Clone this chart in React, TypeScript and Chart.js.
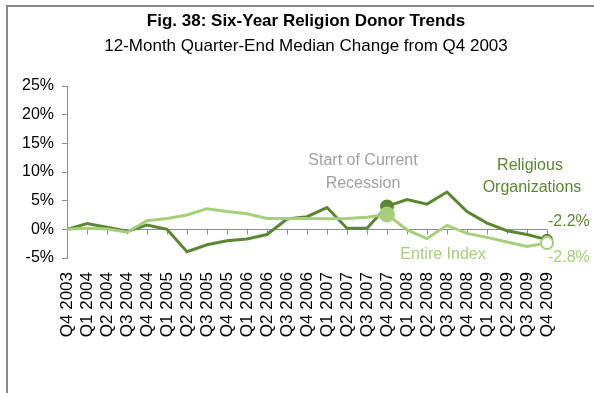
import React, { useEffect, useRef } from "react";
import { Chart, registerables } from "chart.js";

Chart.register(...registerables);

const categories = [
  "Q4 2003", "Q1 2004", "Q2 2004", "Q3 2004", "Q4 2004",
  "Q1 2005", "Q2 2005", "Q3 2005", "Q4 2005",
  "Q1 2006", "Q2 2006", "Q3 2006", "Q4 2006",
  "Q1 2007", "Q2 2007", "Q3 2007", "Q4 2007",
  "Q1 2008", "Q2 2008", "Q3 2008", "Q4 2008",
  "Q1 2009", "Q2 2009", "Q3 2009", "Q4 2009",
];

const religiousOrgs = [
  0, 1.0, 0.35, -0.35, 0.75,
  0, -3.9, -2.7, -2.0,
  -1.7, -0.9, 1.8, 2.2,
  3.8, 0.2, 0.2, 4.0,
  5.2, 4.4, 6.5, 3.1,
  1.1, -0.25, -0.9, -1.8,
];

const entireIndex = [
  0, 0.2, 0.05, -0.5, 1.5,
  1.9, 2.5, 3.6, 3.1,
  2.7, 1.9, 1.9, 1.9,
  1.85, 1.9, 2.1, 2.6,
  -0.1, -1.6, 0.7, -0.7,
  -1.4, -2.2, -3.0, -2.4,
];

const yTicks = [-5, 0, 5, 10, 15, 20, 25];

const recessionIndex = 16;

const titleText = "Fig. 38: Six-Year Religion Donor Trends";
const subtitleText = "12-Month Quarter-End Median Change from Q4 2003";
const recessionLabel = ["Start of Current", "Recession"];
const religiousLabel = ["Religious", "Organizations"];
const entireLabel = "Entire Index";
const religiousEndLabel = "-2.2%";
const entireEndLabel = "-2.8%";

const DARK = "#5B8632";
const LIGHT = "#A6CE7B";
const AXIS = "#8C8C8C";
const FONT = "'Liberation Sans', Arial, sans-serif";

export default function App() {
  const canvasRef = useRef<HTMLCanvasElement | null>(null);

  useEffect(() => {
    if (!canvasRef.current) return;
    const last = categories.length - 1;

    const radii = (big: number, small: number) =>
      categories.map((_, i) => (i === recessionIndex ? big : i === last ? small : 0));

    const zeroLinePlugin = {
      id: "zeroLine",
      beforeDatasetsDraw(chart: any) {
        const { ctx, chartArea, scales } = chart;
        const y0 = Math.round(scales.y.getPixelForValue(0)) + 0.5;
        ctx.save();
        ctx.strokeStyle = AXIS;
        ctx.lineWidth = 1;
        ctx.beginPath();
        ctx.moveTo(chartArea.left - 5, y0);
        ctx.lineTo(chartArea.right, y0);
        for (let i = 1; i < categories.length; i++) {
          const x = Math.round(scales.x.getPixelForValue(i)) + 0.5;
          ctx.moveTo(x, y0);
          ctx.lineTo(x, y0 + 5);
        }
        ctx.stroke();
        ctx.restore();
      },
    };

    const textPlugin = {
      id: "texts",
      afterDraw(chart: any) {
        const { ctx } = chart;
        ctx.save();
        ctx.textBaseline = "middle";
        ctx.textAlign = "center";
        ctx.fillStyle = "#000";
        ctx.font = `bold 17px ${FONT}`;
        ctx.fillText(titleText, 306, 21);
        ctx.font = `17px ${FONT}`;
        ctx.fillText(subtitleText, 306, 46);

        ctx.font = `16px ${FONT}`;
        ctx.fillStyle = "#A0A0A0";
        ctx.fillText(recessionLabel[0], 363, 161);
        ctx.fillText(recessionLabel[1], 363, 184);

        ctx.fillStyle = DARK;
        ctx.fillText(religiousLabel[0], 530, 166);
        ctx.fillText(religiousLabel[1], 532, 188);

        ctx.fillStyle = LIGHT;
        ctx.fillText(entireLabel, 443, 255);

        ctx.textAlign = "left";
        ctx.fillStyle = DARK;
        ctx.fillText(religiousEndLabel, 548, 222);
        ctx.fillStyle = LIGHT;
        ctx.fillText(entireEndLabel, 548, 258);
        ctx.restore();
      },
    };

    const chart = new Chart(canvasRef.current, {
      type: "line",
      data: {
        labels: categories,
        datasets: [
          {
            label: "Entire Index",
            data: entireIndex,
            borderColor: LIGHT,
            backgroundColor: categories.map((_, i) => (i === last ? "#FFFFFF" : LIGHT)),
            pointBackgroundColor: categories.map((_, i) => (i === last ? "#FFFFFF" : LIGHT)),
            pointBorderColor: LIGHT,
            pointBorderWidth: 2,
            borderWidth: 3,
            pointRadius: radii(7, 6),
            tension: 0,
            order: 0,
          },
          {
            label: "Religious Organizations",
            data: religiousOrgs,
            borderColor: DARK,
            backgroundColor: categories.map((_, i) => (i === last ? "#FFFFFF" : DARK)),
            pointBackgroundColor: categories.map((_, i) => (i === last ? "#FFFFFF" : DARK)),
            pointBorderColor: DARK,
            pointBorderWidth: 2,
            borderWidth: 3,
            pointRadius: radii(6, 5),
            tension: 0,
            order: 1,
          },
        ],
      },
      options: {
        animation: false,
        responsive: false,
        maintainAspectRatio: false,
        layout: { padding: { top: 86, right: 47, left: 0, bottom: 0 } },
        plugins: {
          legend: { display: false },
          tooltip: { enabled: false },
          title: { display: false },
        },
        scales: {
          x: {
            type: "category",
            offset: false,
            grid: { display: false },
            border: { display: false },
            ticks: {
              autoSkip: false,
              minRotation: 90,
              maxRotation: 90,
              padding: 6,
              color: "#000",
              font: { family: FONT, size: 17 },
            },
            afterFit(scale: any) {
              scale.height = 135;
            },
          },
          y: {
            min: -5,
            max: 25,
            afterBuildTicks(scale: any) {
              scale.ticks = yTicks.map((v) => ({ value: v }));
            },
            grid: {
              drawOnChartArea: false,
              drawTicks: true,
              tickLength: 5,
              color: AXIS,
            },
            border: { display: true, color: AXIS, width: 1 },
            ticks: {
              padding: 8,
              color: "#000",
              font: { family: FONT, size: 16 },
              callback: (v: any) => `${v}%`,
            },
            afterFit(scale: any) {
              scale.width = 67;
            },
          },
        },
      },
      plugins: [zeroLinePlugin, textPlugin],
    });

    return () => chart.destroy();
  }, []);

  return (
    <div
      style={{
        position: "fixed",
        left: 0,
        top: 0,
        width: 594,
        height: 393,
        overflow: "hidden",
        background: "#fff",
      }}
    >
      <div
        style={{
          position: "absolute",
          left: 6,
          top: 5,
          width: 640,
          height: 440,
          border: "2px solid #8A8A8A",
          boxSizing: "border-box",
        }}
      />
      <canvas
        ref={canvasRef}
        width={594}
        height={393}
        style={{ position: "absolute", left: 0, top: 0, width: 594, height: 393 }}
      />
    </div>
  );
}
